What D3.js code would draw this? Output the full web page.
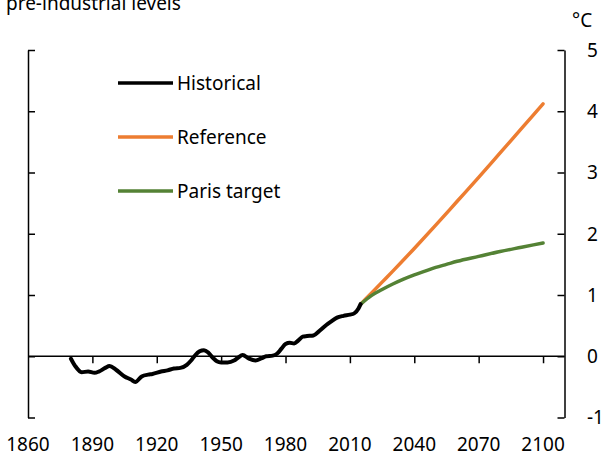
<!DOCTYPE html>
<html>
<head>
<meta charset="utf-8">
<script src="https://cdn.jsdelivr.net/npm/d3@7"></script>
<style>
  body { margin: 0; background: #fff; }
  svg { display: block; font-family: "Noto Sans", "Open Sans", sans-serif; }
</style>
</head>
<body>
<svg id="chart" width="605" height="464"></svg>
<script>
"use strict";

// Historical temperature anomaly (degrees C above pre-industrial)
const histYears = [1880, 1882, 1885, 1888, 1891, 1893, 1896, 1898, 1901, 1905, 1908, 1910, 1913, 1916, 1918,
  1922, 1925, 1928, 1931, 1934, 1936, 1938, 1940, 1942, 1944, 1946, 1948, 1950, 1953, 1956, 1958,
  1960, 1963, 1966, 1969, 1971, 1974, 1976, 1978, 1980, 1982, 1984, 1986, 1988, 1990, 1993, 1996,
  1999, 2001, 2004, 2007, 2010, 2012, 2014, 2015];
const histValues = [-0.04, -0.16, -0.26, -0.25, -0.27, -0.25, -0.19, -0.16, -0.22, -0.33, -0.38, -0.42, -0.33, -0.30, -0.29,
  -0.25, -0.23, -0.20, -0.19, -0.14, -0.07, 0.02, 0.08, 0.10, 0.06, -0.02, -0.08, -0.10, -0.10, -0.07, -0.02,
  0.02, -0.04, -0.07, -0.03, 0.00, 0.01, 0.04, 0.12, 0.20, 0.22, 0.21, 0.26, 0.32, 0.33, 0.34, 0.42,
  0.51, 0.56, 0.63, 0.66, 0.68, 0.70, 0.78, 0.85];

// Projections
const refYears = [2015, 2020, 2025, 2030, 2040, 2050, 2060, 2070, 2080, 2090, 2100];
const referenceValues = [0.85, 1.03, 1.21, 1.39, 1.76, 2.14, 2.53, 2.92, 3.32, 3.72, 4.12];
const parisYears = [2015, 2020, 2025, 2030, 2035, 2040, 2045, 2050, 2055, 2060, 2070, 2080, 2090, 2100];
const parisValues = [0.85, 0.99, 1.09, 1.18, 1.26, 1.33, 1.39, 1.45, 1.50, 1.55, 1.63, 1.71, 1.78, 1.85];

const xTickYears = [1860, 1890, 1920, 1950, 1980, 2010, 2040, 2070, 2100];
const yTickValues = [-1, 0, 1, 2, 3, 4, 5];

(function() {
  const svg = d3.select("#chart");
  const plotLeft = 28, plotRight = 564.5, plotTop = 50, plotBottom = 417.5;

  const x = d3.scaleLinear().domain([1860, 2110]).range([plotLeft, plotRight]);
  const y = d3.scaleLinear().domain([-1, 5]).range([plotBottom, plotTop]);

  const axisColor = "#000";

  // Title fragment (cut off at top, as in the source)
  svg.append("text")
    .attr("x", 6).attr("y", 10)
    .attr("font-size", 19)
    .attr("fill", "#000")
    .text("pre-industrial levels");

  // Unit label
  svg.append("text")
    .attr("x", 572).attr("y", 27)
    .attr("font-size", 19)
    .attr("fill", "#000")
    .text("°C");

  // Left axis with inward ticks
  const leftAxis = d3.axisRight(y).tickValues(yTickValues).tickSize(7).tickSizeOuter(0).tickFormat("");
  svg.append("g")
    .attr("transform", "translate(" + plotLeft + ",0)")
    .call(leftAxis)
    .call(g => g.selectAll("path, line").attr("stroke", axisColor).attr("stroke-width", 1.5));

  // Right axis with inward ticks and labels to the right
  const rightAxis = d3.axisLeft(y).tickValues(yTickValues).tickSize(7).tickSizeOuter(0).tickFormat("");
  svg.append("g")
    .attr("transform", "translate(" + plotRight + ",0)")
    .call(rightAxis)
    .call(g => g.selectAll("path, line").attr("stroke", axisColor).attr("stroke-width", 1.5));

  svg.append("g")
    .selectAll("text")
    .data(yTickValues)
    .join("text")
    .attr("x", 587)
    .attr("y", d => y(d))
    .attr("dy", "0.36em")
    .attr("font-size", 19)
    .attr("fill", "#000")
    .text(d => d);

  // Zero line with downward ticks
  const xAxis = d3.axisBottom(x).tickValues(xTickYears.slice(1)).tickSize(7).tickFormat("");
  svg.append("g")
    .attr("transform", "translate(0," + y(0) + ")")
    .call(xAxis)
    .call(g => g.select(".domain").attr("d", "M" + plotLeft + ",0H" + plotRight))
    .call(g => g.selectAll("path, line").attr("stroke", axisColor).attr("stroke-width", 1.5));

  // Year labels
  svg.append("g")
    .selectAll("text")
    .data(xTickYears)
    .join("text")
    .attr("x", d => x(d))
    .attr("y", 451)
    .attr("text-anchor", "middle")
    .attr("font-size", 19)
    .attr("fill", "#000")
    .text(d => d);

  const line = d3.line()
    .x(d => x(d[0]))
    .y(d => y(d[1]))
    .curve(d3.curveMonotoneX);

  const series = [
    { name: "Reference", color: "#ED7D31", width: 3.5, data: d3.zip(refYears, referenceValues) },
    { name: "Paris target", color: "#548235", width: 3.5, data: d3.zip(parisYears, parisValues) },
    { name: "Historical", color: "#000000", width: 4, data: d3.zip(histYears, histValues) }
  ];

  svg.append("g")
    .selectAll("path")
    .data(series)
    .join("path")
    .attr("fill", "none")
    .attr("stroke", d => d.color)
    .attr("stroke-width", d => d.width)
    .attr("stroke-linejoin", "round")
    .attr("stroke-linecap", "round")
    .attr("d", d => line(d.data));

  // Legend
  const legendItems = [series[2], series[0], series[1]];
  const legend = svg.append("g")
    .selectAll("g")
    .data(legendItems)
    .join("g")
    .attr("transform", (d, i) => "translate(118," + (83 + i * 54) + ")");

  legend.append("line")
    .attr("x1", 0).attr("x2", 55)
    .attr("stroke", d => d.color)
    .attr("stroke-width", 3.5);

  legend.append("text")
    .attr("x", 59)
    .attr("dy", "0.36em")
    .attr("font-size", 19)
    .attr("fill", "#000")
    .text(d => d.name);
})();
</script>
</body>
</html>
